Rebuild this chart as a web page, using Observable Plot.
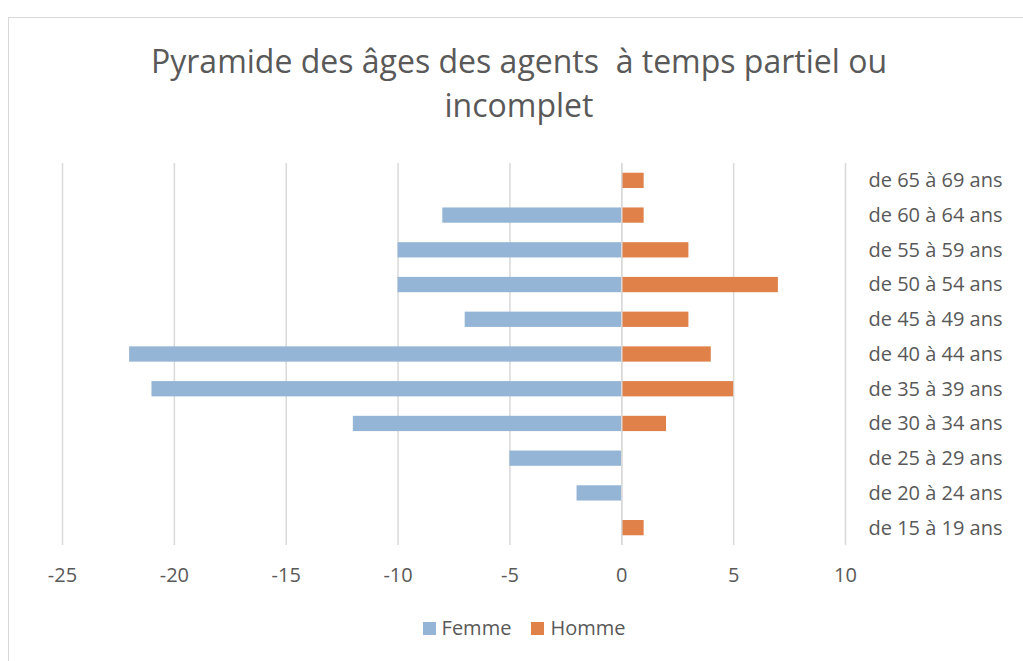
<!DOCTYPE html>
<html>
<head>
<meta charset="utf-8">
<script src="https://cdn.jsdelivr.net/npm/d3@7"></script>
<script src="https://cdn.jsdelivr.net/npm/@observablehq/plot@0.6"></script>
<style>
  html, body { margin: 0; padding: 0; background: #fff; }
  #page { position: relative; width: 1023px; height: 661px; overflow: hidden; font-family: "Open Sans", sans-serif; color: #595959; }
  #frame { position: absolute; left: 8px; top: 17px; width: 1100px; height: 700px; border: 1.5px solid #d9d9d9; box-sizing: border-box; }
  #title { position: absolute; left: 0; width: 1038px; top: 39px; text-align: center; font-size: 32px; line-height: 44px; color: #595959; }
  #chart { position: absolute; left: 0; top: 150px; }
  #legend { position: absolute; top: 614px; left: 0; width: 1048px; text-align: center; font-size: 20px; color: #595959; }
  #legend span.sw { display: inline-block; width: 13px; height: 13px; margin-right: 6px; vertical-align: 0px; }
  #legend span.item { margin: 0 10px; }
</style>
</head>
<body>
<div id="page">
  <div id="frame"></div>
  <div id="title">Pyramide des âges des agents&nbsp; à temps partiel ou<br>incomplet</div>
  <div id="chart"></div>
  <div id="legend"></div>
</div>
<script>
const categories = ["de 65 à 69 ans","de 60 à 64 ans","de 55 à 59 ans","de 50 à 54 ans","de 45 à 49 ans","de 40 à 44 ans","de 35 à 39 ans","de 30 à 34 ans","de 25 à 29 ans","de 20 à 24 ans","de 15 à 19 ans"];
const femme = [0, -8, -10, -10, -7, -22, -21, -12, -5, -2, 0];
const homme = [1, 1, 3, 7, 3, 4, 5, 2, 0, 0, 1];
const xTicks = [-25, -20, -15, -10, -5, 0, 5, 10];
const seriesNames = ["Femme", "Homme"];
const seriesColors = ["#94b5d5", "#df8149"];

const data = [];
categories.forEach((c, i) => {
  data.push({cat: c, serie: "Femme", v: femme[i]});
  data.push({cat: c, serie: "Homme", v: homme[i]});
});

const chart = Plot.plot({
  width: 1023,
  height: 470,
  marginLeft: 62,
  marginRight: 178,
  marginTop: 13,
  marginBottom: 75,
  style: {fontFamily: "'Open Sans', sans-serif", fontSize: "20px", color: "#595959", background: "transparent"},
  x: {domain: [-25, 10], ticks: xTicks, tickSize: 0, tickPadding: 22, label: null, tickFormat: d => String(d)},
  y: {domain: categories, paddingInner: 0.56, paddingOuter: 0.28, round: false, label: null, axis: "right", tickSize: 0, tickPadding: 23},
  color: {domain: seriesNames, range: seriesColors},
  marks: [
    Plot.ruleX(xTicks, {stroke: "#d9d9d9", strokeWidth: 1.5}),
    Plot.barX(data, {y: "cat", x1: 0, x2: "v", fill: "serie"}),
    Plot.ruleX([0], {stroke: "#d9d9d9", strokeWidth: 1.5})
  ]
});
document.getElementById("chart").appendChild(chart);

const legend = document.getElementById("legend");
seriesNames.forEach((s, i) => {
  const item = document.createElement("span");
  item.className = "item";
  const sw = document.createElement("span");
  sw.className = "sw";
  sw.style.background = seriesColors[i];
  item.appendChild(sw);
  item.appendChild(document.createTextNode(s));
  legend.appendChild(item);
});
</script>
</body>
</html>
